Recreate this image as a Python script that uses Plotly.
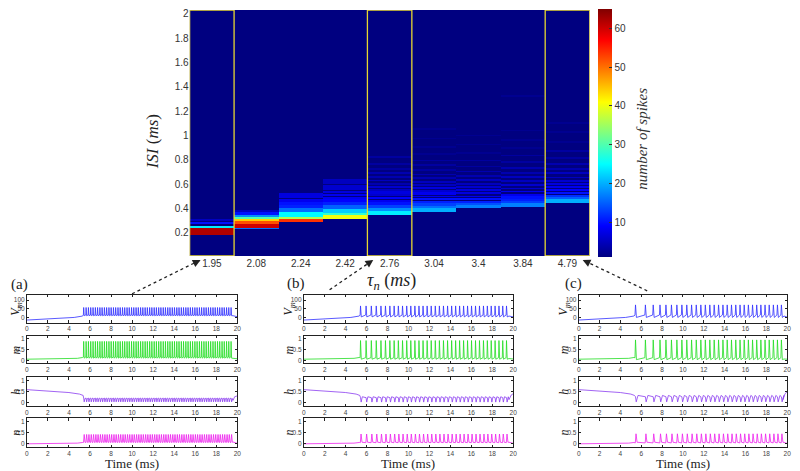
import numpy as np
import plotly.graph_objects as go

# ---------------- heatmap data ----------------
tau_labels = ["1.95", "2.08", "2.24", "2.42", "2.76", "3.04", "3.4", "3.84", "4.79"]

# ISI bands per tau column: [isi_low, isi_high, number_of_spikes]
isi_195 = [[0.186, 0.240, 62], [0.240, 0.258, 24], [0.277, 0.293, 10], [0.303, 0.318, 5]]
isi_208 = [[0.235, 0.245, 16], [0.245, 0.280, 60], [0.280, 0.300, 52], [0.300, 0.315, 44],
           [0.315, 0.335, 30], [0.335, 0.350, 18], [0.350, 0.375, 10], [0.375, 0.390, 5]]
isi_224 = [[0.290, 0.315, 54], [0.315, 0.335, 36], [0.335, 0.375, 25], [0.375, 0.405, 16],
           [0.405, 0.430, 11], [0.430, 0.455, 10], [0.455, 0.485, 8], [0.490, 0.530, 7]]
isi_242 = [[0.320, 0.348, 40], [0.348, 0.370, 28], [0.370, 0.400, 22], [0.400, 0.430, 15],
           [0.430, 0.455, 11], [0.455, 0.480, 9], [0.485, 0.500, 8], [0.505, 0.525, 8],
           [0.530, 0.550, 7], [0.555, 0.600, 6], [0.605, 0.645, 5]]
isi_276 = [[0.350, 0.385, 24], [0.385, 0.410, 18], [0.410, 0.435, 13], [0.435, 0.455, 10],
           [0.455, 0.475, 8], [0.480, 0.500, 9], [0.505, 0.520, 6], [0.525, 0.545, 7],
           [0.550, 0.565, 5], [0.575, 0.590, 6], [0.600, 0.615, 4], [0.625, 0.640, 5],
           [0.655, 0.670, 4], [0.690, 0.705, 4], [0.720, 0.735, 3], [0.760, 0.775, 3],
           [0.820, 0.835, 3]]
isi_304 = [[0.375, 0.405, 20], [0.405, 0.425, 16], [0.425, 0.445, 13], [0.445, 0.465, 11],
           [0.470, 0.490, 10], [0.495, 0.510, 8], [0.515, 0.535, 8], [0.540, 0.555, 6],
           [0.565, 0.580, 7], [0.590, 0.605, 5], [0.615, 0.630, 5], [0.645, 0.660, 4],
           [0.675, 0.690, 4], [0.710, 0.725, 3], [0.750, 0.765, 3], [0.790, 0.805, 3],
           [0.840, 0.855, 2], [0.900, 0.915, 2], [0.970, 0.985, 2], [1.050, 1.060, 2]]
isi_340 = [[0.405, 0.430, 17], [0.430, 0.450, 14], [0.450, 0.465, 11], [0.470, 0.490, 10],
           [0.495, 0.510, 8], [0.520, 0.535, 7], [0.545, 0.560, 7], [0.570, 0.585, 6],
           [0.600, 0.615, 5], [0.630, 0.645, 5], [0.665, 0.680, 4], [0.700, 0.715, 4],
           [0.740, 0.755, 3], [0.790, 0.805, 3], [0.850, 0.865, 2], [0.920, 0.935, 2],
           [1.000, 1.010, 2]]
isi_384 = [[0.420, 0.445, 17], [0.445, 0.465, 13], [0.465, 0.480, 11], [0.485, 0.505, 10],
           [0.510, 0.525, 8], [0.535, 0.550, 8], [0.560, 0.575, 6], [0.590, 0.605, 6],
           [0.620, 0.635, 5], [0.655, 0.670, 5], [0.690, 0.705, 4], [0.730, 0.745, 4],
           [0.780, 0.795, 3], [0.830, 0.845, 3], [0.890, 0.905, 2], [0.960, 0.975, 2],
           [1.040, 1.050, 2], [1.320, 1.330, 2]]
isi_479 = [[0.450, 0.480, 20], [0.480, 0.500, 15], [0.500, 0.515, 12], [0.520, 0.540, 10],
           [0.545, 0.560, 9], [0.570, 0.585, 8], [0.595, 0.610, 7], [0.620, 0.635, 6],
           [0.650, 0.665, 5], [0.685, 0.700, 5], [0.720, 0.735, 4], [0.760, 0.775, 4],
           [0.810, 0.825, 3], [0.870, 0.885, 3], [0.940, 0.955, 2], [1.020, 1.035, 2],
           [1.100, 1.110, 2]]
isi_columns = [isi_195, isi_208, isi_224, isi_242, isi_276, isi_304, isi_340, isi_384, isi_479]
isi_ticks = [0.2, 0.4, 0.6, 0.8, 1, 1.2, 1.4, 1.6, 1.8, 2]
spike_ticks = [10, 20, 30, 40, 50, 60]
highlight_cols = [0, 4, 8]

# ---------------- time-trace data ----------------
spk_a = [5.40, 5.63, 5.85, 6.07, 6.29, 6.51, 6.72, 6.94, 7.15, 7.37, 7.58, 7.80, 8.01, 8.23,
         8.44, 8.66, 8.87, 9.09, 9.30, 9.52, 9.73, 9.95, 10.16, 10.38, 10.59, 10.81, 11.02,
         11.24, 11.45, 11.67, 11.88, 12.10, 12.31, 12.53, 12.74, 12.96, 13.17, 13.39, 13.60,
         13.82, 14.03, 14.25, 14.46, 14.68, 14.89, 15.11, 15.32, 15.54, 15.75, 15.97, 16.18,
         16.40, 16.61, 16.83, 17.04, 17.26, 17.47, 17.69, 17.90, 18.12, 18.33, 18.55, 18.76,
         18.98, 19.19, 19.41]
spk_b = [5.42, 5.95, 6.45, 6.92, 7.37, 7.80, 8.22, 8.63, 9.03, 9.43, 9.83, 10.22, 10.61,
         11.00, 11.39, 11.78, 12.17, 12.56, 12.95, 13.34, 13.73, 14.12, 14.50, 14.88, 15.26,
         15.64, 16.02, 16.40, 16.78, 17.16, 17.53, 17.90, 18.27, 18.64, 19.00, 19.36]
spk_c = [5.45, 6.40, 7.15, 7.80, 8.37, 8.90, 9.42, 9.90, 10.37, 10.83, 11.28, 11.72, 12.15,
         12.58, 13.00, 13.42, 13.84, 14.25, 14.66, 15.07, 15.48, 15.88, 16.28, 16.68, 17.08,
         17.48, 17.88, 18.28, 18.68, 19.07, 19.45]

# slow sub-threshold course before the first spike: (time, value)
pre_vm = [(0, -15), (2.5, -9), (4.5, 0), (5.3, 8)]
pre_m = [(0, 0.05), (3, 0.06), (4.8, 0.09), (5.3, 0.13)]
pre_h = [(0, 0.60), (2, 0.55), (4, 0.47), (5.0, 0.40), (5.35, 0.34)]
pre_n = [(0, 0.0), (3, 0.01), (4.8, 0.03), (5.3, 0.06)]

# per-spike shape (offset from spike time, value) for each panel
shape_vm = {"a": [(-0.03, 14), (0.0, 57), (0.05, 10)],
            "b": [(-0.04, 14), (0.0, 66), (0.07, 3)],
            "c": [(-0.05, 14), (0.0, 72), (0.09, 0)]}
shape_m = {"a": [(-0.03, 0.15), (0.0, 0.88), (0.05, 0.10)],
           "b": [(-0.04, 0.12), (0.0, 0.92), (0.07, 0.05)],
           "c": [(-0.05, 0.12), (0.0, 0.95), (0.09, 0.03)]}
shape_h = {"a": [(0.0, 0.22), (0.05, 0.05), (0.12, 0.20)],
           "b": [(0.0, 0.24), (0.06, 0.04), (0.17, 0.28)],
           "c": [(0.0, 0.28), (0.07, 0.05), (0.24, 0.34)]}
shape_n = {"a": [(-0.02, 0.06), (0.05, 0.42), (0.12, 0.07)],
           "b": [(-0.02, 0.05), (0.05, 0.44), (0.14, 0.07)],
           "c": [(-0.02, 0.04), (0.05, 0.45), (0.15, 0.07)]}

post_vm = {"a": [(19.6, 10), (20, 4)], "b": [(19.6, 8), (20, 3)], "c": [(19.7, 8), (20, 2)]}
post_m = {"a": [(19.6, 0.1), (20, 0.07)], "b": [(19.6, 0.08), (20, 0.06)], "c": [(19.7, 0.06), (20, 0.05)]}
post_h = {"a": [(19.6, 0.12), (19.75, 0.28), (20, 0.32)], "b": [(19.6, 0.15), (19.8, 0.35), (20, 0.42)],
          "c": [(19.6, 0.15), (19.8, 0.42), (20, 0.50)]}
post_n = {"a": [(19.6, 0.08), (20, 0.02)], "b": [(19.6, 0.07), (20, 0.02)], "c": [(19.7, 0.06), (20, 0.02)]}

vm_ticks = [0, 50, 100]
gate_ticks = [0, 0.5, 1]
time_ticks = list(range(0, 21, 2))

# ---------------- figure ----------------
W, H = 800, 471
OFF = 8  # page body margin of the html page


def px(x):
    return (x - OFF) / W


def py(y):
    return min(1.0, 1 - (y - OFF) / H)


fig = go.Figure()

# heatmap matrix
y_centers = np.round(np.arange(0.0025, 2.04, 0.005), 4)
z = np.zeros((len(y_centers), len(tau_labels)))
for ci, bands in enumerate(isi_columns):
    for lo, hi, cnt in bands:
        z[(y_centers >= lo) & (y_centers < hi), ci] = cnt

jet = [[0.0, "rgb(0,0,128)"], [0.125, "rgb(0,0,255)"], [0.375, "rgb(0,255,255)"],
       [0.625, "rgb(255,255,0)"], [0.875, "rgb(255,0,0)"], [1.0, "rgb(128,0,0)"]]

Y_TOP = 2.03
fig.add_trace(go.Heatmap(
    x=list(range(len(tau_labels))), y=y_centers, z=z, colorscale=jet, zmin=1, zmax=65,
    xaxis="x", yaxis="y", hoverinfo="skip",
    colorbar=dict(x=px(600), xanchor="left", thickness=14, thicknessmode="pixels",
                  len=248, lenmode="pixels", y=py(131.5), yanchor="middle",
                  tickvals=spike_ticks, ticks="inside", ticklen=3, tickcolor="#333",
                  tickfont=dict(family="Liberation Sans", size=10, color="#333"),
                  outlinewidth=0, xpad=0, ypad=0)))

layout = dict(
    width=W, height=H, autosize=False, margin=dict(l=0, r=0, t=0, b=0),
    paper_bgcolor="white", plot_bgcolor="white", showlegend=False,
    xaxis=dict(domain=[px(189), px(592)], range=[-0.5, 8.5], anchor="y",
               tickvals=list(range(9)), ticktext=tau_labels, showgrid=False, zeroline=False,
               ticks="", tickfont=dict(family="Liberation Sans", size=10, color="#333")),
    yaxis=dict(domain=[py(255), py(8)], range=[0.011, Y_TOP], anchor="x",
               tickvals=isi_ticks, ticktext=[f"{v:g}" for v in isi_ticks], showgrid=False,
               zeroline=False, ticks="", ticklabeloverflow="allow",
               tickfont=dict(family="Liberation Sans", size=10, color="#333")),
)

shapes = []
annotations = []
for c in highlight_cols:
    shapes.append(dict(type="rect", xref="x", yref="y", x0=c - 0.5, x1=c + 0.5,
                       y0=0.011, y1=Y_TOP, line=dict(color="#e6d630", width=1.3)))

serif = "Liberation Serif"


def note(text, x, y, size, angle=0, color="#222"):
    annotations.append(dict(text=text, x=px(x), y=py(y), xref="paper", yref="paper",
                            xanchor="center", yanchor="middle", showarrow=False, textangle=angle,
                            font=dict(family=serif, size=size, color=color)))


note("<i>ISI</i> (<i>ms</i>)", 152, 140, 17, -90)
note("<i>τ<sub>n</sub></i> (<i>ms</i>)", 392, 281, 18)
note("<i>number of spikes</i>", 645, 137, 15, -90, "#333")

# lower panels
col_x = {"a": (25, 237), "b": (304, 515), "c": (581, 791)}
label_x = {"a": 14, "b": 289, "c": 566}
rows = [("vm", 294, 322), ("m", 335, 363), ("h", 377, 406), ("n", 418, 447)]
row_label = {"vm": "<i>V<sub>m</sub></i>", "m": "<i>m</i>", "h": "<i>h</i>", "n": "<i>n</i>"}
colors = {"vm": "#3030ff", "m": "#22dd22", "h": "#8a3cf0", "n": "#ee22ee"}
spikes = {"a": spk_a, "b": spk_b, "c": spk_c}
pre = {"vm": pre_vm, "m": pre_m, "h": pre_h, "n": pre_n}
shape = {"vm": shape_vm, "m": shape_m, "h": shape_h, "n": shape_n}
post = {"vm": post_vm, "m": post_m, "h": post_h, "n": post_n}


def build(panel, var):
    xs, ys = [], []
    for t, v in pre[var]:
        xs.append(t); ys.append(v)
    for ts in spikes[panel]:
        for dt, v in shape[var][panel]:
            xs.append(ts + dt); ys.append(v)
    for t, v in post[var][panel]:
        xs.append(t); ys.append(v)
    return xs, ys


ax_i = 2
for panel in ["a", "b", "c"]:
    x0, x1 = col_x[panel]
    for var, top, bot in rows:
        xs, ys = build(panel, var)
        xa, ya = f"x{ax_i}", f"y{ax_i}"
        fig.add_trace(go.Scatter(x=xs, y=ys, mode="lines", xaxis=xa, yaxis=ya,
                                 line=dict(color=colors[var], width=0.8), hoverinfo="skip"))
        if var == "vm":
            yr, yt = [-30, 130], vm_ticks
        else:
            yr, yt = [-0.15, 1.15], gate_ticks
        common = dict(showline=True, linecolor="#222", linewidth=0.8, mirror="allticks",
                      ticks="inside", ticklen=2.5, tickcolor="#222", showgrid=False, zeroline=False,
                      tickfont=dict(family="Liberation Sans", size=6.5, color="#444"))
        layout[f"xaxis{ax_i}"] = dict(domain=[px(x0), px(x1)], range=[0, 20], anchor=ya,
                                      tickvals=time_ticks, **common)
        layout[f"yaxis{ax_i}"] = dict(domain=[py(bot), py(top)], range=yr, anchor=xa,
                                      tickvals=yt, ticktext=[f"{v:g}" for v in yt], **common)
        note(row_label[var], label_x[panel], (top + bot) / 2, 12, -90)
        ax_i += 1
    note("Time (ms)", (x0 + x1) / 2, 463.5, 13)

# panel letters
for txt, x, y in [("(a)", 18, 284), ("(b)", 296, 283), ("(c)", 576, 283)]:
    note(txt, x, y, 15)

# dashed arrows from panels to the heatmap columns
for (sx, sy), (ex, ey) in [((131, 293), (200, 259)), ((330, 289), (374, 259)), ((650, 290), (585, 259))]:
    shapes.append(dict(type="line", xref="paper", yref="paper", x0=px(sx), y0=py(sy), x1=px(ex), y1=py(ey),
                       line=dict(color="#222", width=1.3, dash="dot")))
    dx, dy = sx - ex, sy - ey
    L = (dx * dx + dy * dy) ** 0.5
    annotations.append(dict(text="", x=px(ex), y=py(ey), xref="paper", yref="paper", showarrow=True,
                            ax=dx / L * 8, ay=dy / L * 8, arrowhead=2, arrowsize=1.2, arrowwidth=1.3,
                            arrowcolor="#222", standoff=0))

layout["shapes"] = shapes
layout["annotations"] = annotations
fig.update_layout(**layout)
fig.write_html("out.html")
